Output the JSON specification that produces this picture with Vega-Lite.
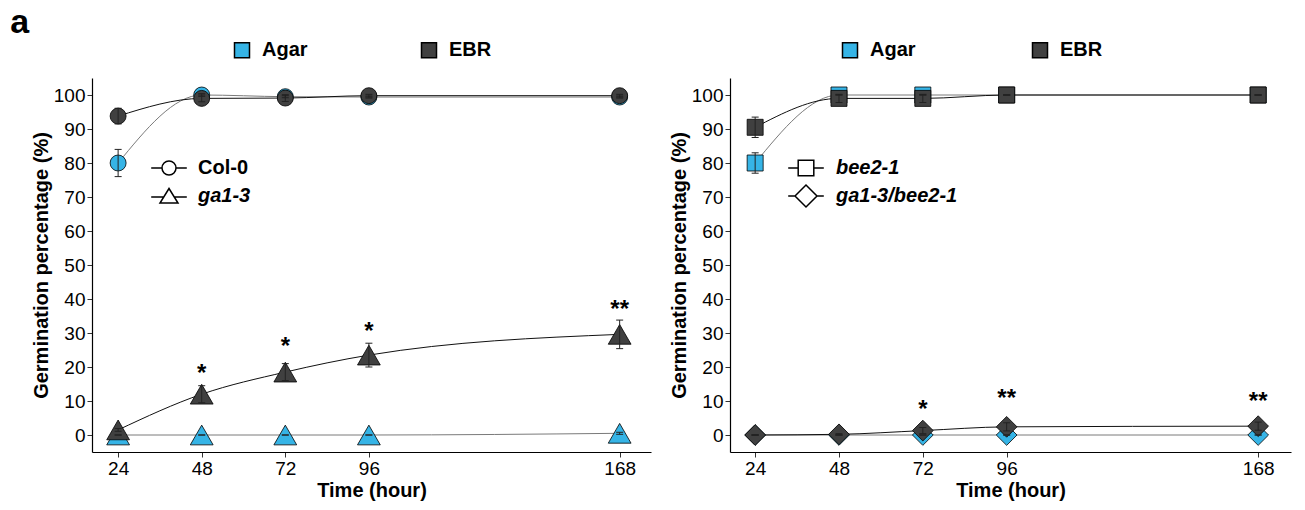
{
  "$schema": "https://vega.github.io/schema/vega-lite/v6.json",
  "padding": {"left": 10, "top": 6, "right": 10, "bottom": 12},
  "title": {"text": "a", "anchor": "start", "fontSize": 34, "fontWeight": "bold", "font": "Liberation Sans", "color": "black", "dx": -21, "offset": 0, "frame": "bounds"},
  "spacing": 18,
  "datasets": {
    "pts": [
      {"p": "L", "g": "Col-0", "t": "Agar", "time": 24, "m": 80, "lo": 76, "hi": 84},
      {"p": "L", "g": "Col-0", "t": "Agar", "time": 48, "m": 100, "lo": 99.6, "hi": 100.4},
      {"p": "L", "g": "Col-0", "t": "Agar", "time": 72, "m": 99.5, "lo": 99.2, "hi": 99.8},
      {"p": "L", "g": "Col-0", "t": "Agar", "time": 96, "m": 99.4, "lo": 99.1, "hi": 99.7},
      {"p": "L", "g": "Col-0", "t": "Agar", "time": 168, "m": 99.4, "lo": 99.1, "hi": 99.7},
      {"p": "L", "g": "ga1-3", "t": "Agar", "time": 24, "m": 0, "lo": 0, "hi": 0},
      {"p": "L", "g": "ga1-3", "t": "Agar", "time": 48, "m": 0, "lo": 0, "hi": 0},
      {"p": "L", "g": "ga1-3", "t": "Agar", "time": 72, "m": 0, "lo": 0, "hi": 0},
      {"p": "L", "g": "ga1-3", "t": "Agar", "time": 96, "m": 0, "lo": 0, "hi": 0},
      {"p": "L", "g": "ga1-3", "t": "Agar", "time": 168, "m": 0.5, "lo": 0.2, "hi": 0.8},
      {"p": "L", "g": "Col-0", "t": "EBR", "time": 24, "m": 93.8, "lo": 91.5, "hi": 96.1},
      {"p": "L", "g": "Col-0", "t": "EBR", "time": 48, "m": 99, "lo": 98, "hi": 100},
      {"p": "L", "g": "Col-0", "t": "EBR", "time": 72, "m": 99.1, "lo": 98.1, "hi": 100.1},
      {"p": "L", "g": "Col-0", "t": "EBR", "time": 96, "m": 99.8, "lo": 99.4, "hi": 100.2},
      {"p": "L", "g": "Col-0", "t": "EBR", "time": 168, "m": 99.8, "lo": 99.4, "hi": 100.2},
      {"p": "L", "g": "ga1-3", "t": "EBR", "time": 24, "m": 1.5, "lo": 1.1, "hi": 1.9},
      {"p": "L", "g": "ga1-3", "t": "EBR", "time": 48, "m": 12, "lo": 9.5, "hi": 14.5},
      {"p": "L", "g": "ga1-3", "t": "EBR", "time": 72, "m": 18.5, "lo": 16, "hi": 21},
      {"p": "L", "g": "ga1-3", "t": "EBR", "time": 96, "m": 23.5, "lo": 20, "hi": 27},
      {"p": "L", "g": "ga1-3", "t": "EBR", "time": 168, "m": 29.6, "lo": 25.4, "hi": 33.8},
      {"p": "R", "g": "bee2-1", "t": "Agar", "time": 24, "m": 80, "lo": 77, "hi": 83},
      {"p": "R", "g": "bee2-1", "t": "Agar", "time": 48, "m": 100, "lo": 100, "hi": 100},
      {"p": "R", "g": "bee2-1", "t": "Agar", "time": 72, "m": 100, "lo": 100, "hi": 100},
      {"p": "R", "g": "bee2-1", "t": "Agar", "time": 96, "m": 100, "lo": 100, "hi": 100},
      {"p": "R", "g": "bee2-1", "t": "Agar", "time": 168, "m": 100, "lo": 100, "hi": 100},
      {"p": "R", "g": "ga1-3/bee2-1", "t": "Agar", "time": 24, "m": 0, "lo": 0, "hi": 0},
      {"p": "R", "g": "ga1-3/bee2-1", "t": "Agar", "time": 48, "m": 0, "lo": 0, "hi": 0},
      {"p": "R", "g": "ga1-3/bee2-1", "t": "Agar", "time": 72, "m": 0, "lo": 0, "hi": 0},
      {"p": "R", "g": "ga1-3/bee2-1", "t": "Agar", "time": 96, "m": 0, "lo": 0, "hi": 0},
      {"p": "R", "g": "ga1-3/bee2-1", "t": "Agar", "time": 168, "m": 0, "lo": 0, "hi": 0},
      {"p": "R", "g": "bee2-1", "t": "EBR", "time": 24, "m": 90.5, "lo": 87.5, "hi": 93.5},
      {"p": "R", "g": "bee2-1", "t": "EBR", "time": 48, "m": 99, "lo": 97.8, "hi": 100.2},
      {"p": "R", "g": "bee2-1", "t": "EBR", "time": 72, "m": 99, "lo": 97.8, "hi": 100.2},
      {"p": "R", "g": "bee2-1", "t": "EBR", "time": 96, "m": 100, "lo": 100, "hi": 100},
      {"p": "R", "g": "bee2-1", "t": "EBR", "time": 168, "m": 100, "lo": 100, "hi": 100},
      {"p": "R", "g": "ga1-3/bee2-1", "t": "EBR", "time": 24, "m": 0, "lo": 0, "hi": 0},
      {"p": "R", "g": "ga1-3/bee2-1", "t": "EBR", "time": 48, "m": 0.2, "lo": 0, "hi": 0.4},
      {"p": "R", "g": "ga1-3/bee2-1", "t": "EBR", "time": 72, "m": 1.3, "lo": 0.4, "hi": 2.2},
      {"p": "R", "g": "ga1-3/bee2-1", "t": "EBR", "time": 96, "m": 2.4, "lo": 1.2, "hi": 3.6},
      {"p": "R", "g": "ga1-3/bee2-1", "t": "EBR", "time": 168, "m": 2.6, "lo": 1.4, "hi": 3.8}
    ],
    "stars": [
      {"p": "L", "time": 48, "sy": 18, "s": "*"},
      {"p": "L", "time": 72, "sy": 25.8, "s": "*"},
      {"p": "L", "time": 96, "sy": 30.2, "s": "*"},
      {"p": "L", "time": 168, "sy": 36.9, "s": "**"},
      {"p": "R", "time": 72, "sy": 7.5, "s": "*"},
      {"p": "R", "time": 96, "sy": 10.7, "s": "**"},
      {"p": "R", "time": 168, "sy": 9.8, "s": "**"}
    ]
  },
  "hconcat": [
    {
      "width": 559,
      "height": 374,
      "resolve": {"scale": {"shape": "independent"}, "legend": {"shape": "independent"}},
      "layer": [
        {
          "data": {"name": "pts"},
          "transform": [{"filter": "datum.p === 'L'"}],
          "mark": {"type": "line", "interpolate": "monotone", "strokeWidth": 1},
          "encoding": {
            "x": {"field": "time", "type": "quantitative", "scale": {"domain": [16.5, 177], "nice": false, "zero": false}, "axis": {"values": [24, 48, 72, 96, 168], "title": "Time (hour)"}},
            "y": {"field": "m", "type": "quantitative", "scale": {"domain": [-5, 105], "nice": false, "zero": false}, "axis": {"values": [0, 10, 20, 30, 40, 50, 60, 70, 80, 90, 100], "tickCount": 12, "title": "Germination percentage (%)"}},
            "detail": [{"field": "g"}, {"field": "t"}],
            "stroke": {"condition": {"test": "datum.t === 'Agar'", "value": "#7a7a7a"}, "value": "#111111"}
          }
        },
        {
          "data": {"name": "pts"},
          "transform": [{"filter": "datum.p === 'L' && datum.g === 'Col-0'"}],
          "mark": {"type": "point", "shape": "circle", "size": 255, "filled": true, "stroke": "black", "strokeWidth": 0.8, "opacity": 1},
          "encoding": {
            "x": {"field": "time", "type": "quantitative"},
            "y": {"field": "m", "type": "quantitative"},
            "fill": {"field": "t", "type": "nominal", "scale": {"domain": ["Agar", "EBR"], "range": ["#36B4E6", "#404040"]},
              "legend": {"orient": "none", "legendX": 140, "legendY": -38, "direction": "horizontal", "title": null, "symbolType": "square", "symbolSize": 225, "symbolStrokeColor": "black", "symbolStrokeWidth": 1.5, "symbolOpacity": 1, "labelFontSize": 20, "labelFontWeight": "bold", "labelOffset": 10, "columnPadding": 110, "padding": 0}}
          }
        },
        {
          "data": {"name": "pts"},
          "transform": [{"filter": "datum.p === 'L' && datum.g === 'ga1-3'"}],
          "mark": {"type": "point", "shape": "triangle-up", "size": 520, "filled": true, "stroke": "black", "strokeWidth": 0.8, "opacity": 1},
          "encoding": {
            "x": {"field": "time", "type": "quantitative"},
            "y": {"field": "m", "type": "quantitative"},
            "fill": {"field": "t", "type": "nominal", "scale": {"domain": ["Agar", "EBR"], "range": ["#36B4E6", "#404040"]},
              "legend": {"orient": "none", "legendX": 140, "legendY": -38, "direction": "horizontal", "title": null, "symbolType": "square", "symbolSize": 225, "symbolStrokeColor": "black", "symbolStrokeWidth": 1.5, "symbolOpacity": 1, "labelFontSize": 20, "labelFontWeight": "bold", "labelOffset": 10, "columnPadding": 110, "padding": 0}}
          }
        },
        {
          "data": {"name": "pts"},
          "transform": [{"filter": "false"}],
          "mark": {"type": "point", "filled": false, "fill": "white", "stroke": "black", "strokeWidth": 1.5, "opacity": 1},
          "encoding": {
            "x": {"field": "time", "type": "quantitative"},
            "y": {"field": "m", "type": "quantitative"},
            "shape": {"field": "g", "type": "nominal", "scale": {"domain": ["Col-0"], "range": ["M-1.78,0L-0.7,0M0.7,0L1.78,0M-0.7,0A0.7,0.7,0,1,1,0.7,0A0.7,0.7,0,1,1,-0.7,0Z"]},
              "legend": {"orient": "none", "legendX": 66, "legendY": 79, "title": null, "symbolSize": 400, "symbolStrokeWidth": 1.5, "symbolOpacity": 1, "labelFontSize": 20, "labelFontWeight": "bold", "labelFontStyle": "normal", "labelOffset": 18, "padding": 0}}
          }
        },
        {
          "data": {"name": "pts"},
          "transform": [{"filter": "false"}],
          "mark": {"type": "point", "filled": false, "fill": "white", "stroke": "black", "strokeWidth": 1.5, "opacity": 1},
          "encoding": {
            "x": {"field": "time", "type": "quantitative"},
            "y": {"field": "m", "type": "quantitative"},
            "shape": {"field": "g", "type": "nominal", "scale": {"domain": ["ga1-3"], "range": ["M-1.78,0.1L-0.5,0.1M0.5,0.1L1.78,0.1M0,-0.75L0.9,0.7L-0.9,0.7Z"]},
              "legend": {"orient": "none", "legendX": 66, "legendY": 107, "title": null, "symbolSize": 400, "symbolStrokeWidth": 1.5, "symbolOpacity": 1, "labelFontSize": 20, "labelFontWeight": "bold", "labelFontStyle": "italic", "labelOffset": 18, "padding": 0}}
          }
        },
        {
          "data": {"name": "pts"},
          "transform": [{"filter": "datum.p === 'L'"}],
          "mark": {"type": "rule", "color": "#222222", "strokeWidth": 1},
          "encoding": {
            "x": {"field": "time", "type": "quantitative"},
            "y": {"field": "lo", "type": "quantitative"},
            "y2": {"field": "hi"}
          }
        },
        {
          "data": {"name": "pts"},
          "transform": [{"filter": "datum.p === 'L'"}],
          "mark": {"type": "tick", "orient": "horizontal", "color": "#222222", "size": 7, "thickness": 1, "opacity": 1},
          "encoding": {
            "x": {"field": "time", "type": "quantitative"},
            "y": {"field": "lo", "type": "quantitative"}
          }
        },
        {
          "data": {"name": "pts"},
          "transform": [{"filter": "datum.p === 'L'"}],
          "mark": {"type": "tick", "orient": "horizontal", "color": "#222222", "size": 7, "thickness": 1, "opacity": 1},
          "encoding": {
            "x": {"field": "time", "type": "quantitative"},
            "y": {"field": "hi", "type": "quantitative"}
          }
        },
        {
          "data": {"name": "stars"},
          "transform": [{"filter": "datum.p === 'L'"}],
          "mark": {"type": "text", "fontSize": 24, "fontWeight": "bold", "baseline": "middle", "align": "center", "color": "black"},
          "encoding": {
            "x": {"field": "time", "type": "quantitative"},
            "y": {"field": "sy", "type": "quantitative"},
            "text": {"field": "s"}
          }
        }
      ]
    },
    {
      "width": 561,
      "height": 374,
      "resolve": {"scale": {"shape": "independent"}, "legend": {"shape": "independent"}},
      "layer": [
        {
          "data": {"name": "pts"},
          "transform": [{"filter": "datum.p === 'R'"}],
          "mark": {"type": "line", "interpolate": "monotone", "strokeWidth": 1},
          "encoding": {
            "x": {"field": "time", "type": "quantitative", "scale": {"domain": [16.8, 177.4], "nice": false, "zero": false}, "axis": {"values": [24, 48, 72, 96, 168], "title": "Time (hour)"}},
            "y": {"field": "m", "type": "quantitative", "scale": {"domain": [-5, 105], "nice": false, "zero": false}, "axis": {"values": [0, 10, 20, 30, 40, 50, 60, 70, 80, 90, 100], "tickCount": 12, "title": "Germination percentage (%)"}},
            "detail": [{"field": "g"}, {"field": "t"}],
            "stroke": {"condition": {"test": "datum.t === 'Agar'", "value": "#7a7a7a"}, "value": "#111111"}
          }
        },
        {
          "data": {"name": "pts"},
          "transform": [{"filter": "datum.p === 'R' && datum.g === 'bee2-1'"}],
          "mark": {"type": "point", "shape": "square", "size": 256, "filled": true, "stroke": "black", "strokeWidth": 0.8, "opacity": 1},
          "encoding": {
            "x": {"field": "time", "type": "quantitative"},
            "y": {"field": "m", "type": "quantitative"},
            "fill": {"field": "t", "type": "nominal", "scale": {"domain": ["Agar", "EBR"], "range": ["#36B4E6", "#404040"]},
              "legend": {"orient": "none", "legendX": 110, "legendY": -38, "direction": "horizontal", "title": null, "symbolType": "square", "symbolSize": 225, "symbolStrokeColor": "black", "symbolStrokeWidth": 1.5, "symbolOpacity": 1, "labelFontSize": 20, "labelFontWeight": "bold", "labelOffset": 10, "columnPadding": 113, "padding": 0}}
          }
        },
        {
          "data": {"name": "pts"},
          "transform": [{"filter": "datum.p === 'R' && datum.g === 'ga1-3/bee2-1'"}],
          "mark": {"type": "point", "shape": "diamond", "size": 430, "filled": true, "stroke": "black", "strokeWidth": 0.8, "opacity": 1},
          "encoding": {
            "x": {"field": "time", "type": "quantitative"},
            "y": {"field": "m", "type": "quantitative"},
            "fill": {"field": "t", "type": "nominal", "scale": {"domain": ["Agar", "EBR"], "range": ["#36B4E6", "#404040"]},
              "legend": {"orient": "none", "legendX": 110, "legendY": -38, "direction": "horizontal", "title": null, "symbolType": "square", "symbolSize": 225, "symbolStrokeColor": "black", "symbolStrokeWidth": 1.5, "symbolOpacity": 1, "labelFontSize": 20, "labelFontWeight": "bold", "labelOffset": 10, "columnPadding": 113, "padding": 0}}
          }
        },
        {
          "data": {"name": "pts"},
          "transform": [{"filter": "false"}],
          "mark": {"type": "point", "filled": false, "fill": "white", "stroke": "black", "strokeWidth": 1.5, "opacity": 1},
          "encoding": {
            "x": {"field": "time", "type": "quantitative"},
            "y": {"field": "m", "type": "quantitative"},
            "shape": {"field": "g", "type": "nominal", "scale": {"domain": ["bee2-1"], "range": ["M-1.78,0L-0.78,0M0.78,0L1.78,0M-0.78,-0.78L0.78,-0.78L0.78,0.78L-0.78,0.78Z"]},
              "legend": {"orient": "none", "legendX": 65, "legendY": 79, "title": null, "symbolSize": 400, "symbolStrokeWidth": 1.5, "symbolOpacity": 1, "labelFontSize": 20, "labelFontWeight": "bold", "labelFontStyle": "italic", "labelOffset": 19, "padding": 0}}
          }
        },
        {
          "data": {"name": "pts"},
          "transform": [{"filter": "false"}],
          "mark": {"type": "point", "filled": false, "fill": "white", "stroke": "black", "strokeWidth": 1.5, "opacity": 1},
          "encoding": {
            "x": {"field": "time", "type": "quantitative"},
            "y": {"field": "m", "type": "quantitative"},
            "shape": {"field": "g", "type": "nominal", "scale": {"domain": ["ga1-3/bee2-1"], "range": ["M-1.78,0L-1.1,0M1.1,0L1.78,0M-1.1,0L0,-1.1L1.1,0L0,1.1Z"]},
              "legend": {"orient": "none", "legendX": 65, "legendY": 107, "title": null, "symbolSize": 400, "symbolStrokeWidth": 1.5, "symbolOpacity": 1, "labelFontSize": 20, "labelFontWeight": "bold", "labelFontStyle": "italic", "labelOffset": 19, "padding": 0}}
          }
        },
        {
          "data": {"name": "pts"},
          "transform": [{"filter": "datum.p === 'R'"}],
          "mark": {"type": "rule", "color": "#222222", "strokeWidth": 1},
          "encoding": {
            "x": {"field": "time", "type": "quantitative"},
            "y": {"field": "lo", "type": "quantitative"},
            "y2": {"field": "hi"}
          }
        },
        {
          "data": {"name": "pts"},
          "transform": [{"filter": "datum.p === 'R'"}],
          "mark": {"type": "tick", "orient": "horizontal", "color": "#222222", "size": 7, "thickness": 1, "opacity": 1},
          "encoding": {
            "x": {"field": "time", "type": "quantitative"},
            "y": {"field": "lo", "type": "quantitative"}
          }
        },
        {
          "data": {"name": "pts"},
          "transform": [{"filter": "datum.p === 'R'"}],
          "mark": {"type": "tick", "orient": "horizontal", "color": "#222222", "size": 7, "thickness": 1, "opacity": 1},
          "encoding": {
            "x": {"field": "time", "type": "quantitative"},
            "y": {"field": "hi", "type": "quantitative"}
          }
        },
        {
          "data": {"name": "stars"},
          "transform": [{"filter": "datum.p === 'R'"}],
          "mark": {"type": "text", "fontSize": 24, "fontWeight": "bold", "baseline": "middle", "align": "center", "color": "black"},
          "encoding": {
            "x": {"field": "time", "type": "quantitative"},
            "y": {"field": "sy", "type": "quantitative"},
            "text": {"field": "s"}
          }
        }
      ]
    }
  ],
  "resolve": {"scale": {"fill": "independent", "shape": "independent", "x": "independent", "y": "independent"}, "legend": {"fill": "independent", "shape": "independent"}},
  "config": {
    "font": "Liberation Sans",
    "view": {"stroke": null},
    "axis": {"domainColor": "black", "domainWidth": 1.2, "tickColor": "#333333", "tickSize": 5, "labelFontSize": 19, "labelColor": "black", "labelFont": "Liberation Sans", "titleFont": "Liberation Sans", "titleFontSize": 20, "titleFontWeight": "bold", "titleColor": "black", "grid": false, "labelPadding": 2, "titlePadding": 2, "labelOverlap": false},
    "legend": {"labelFont": "Liberation Sans", "labelColor": "black", "padding": 0}
  }
}
